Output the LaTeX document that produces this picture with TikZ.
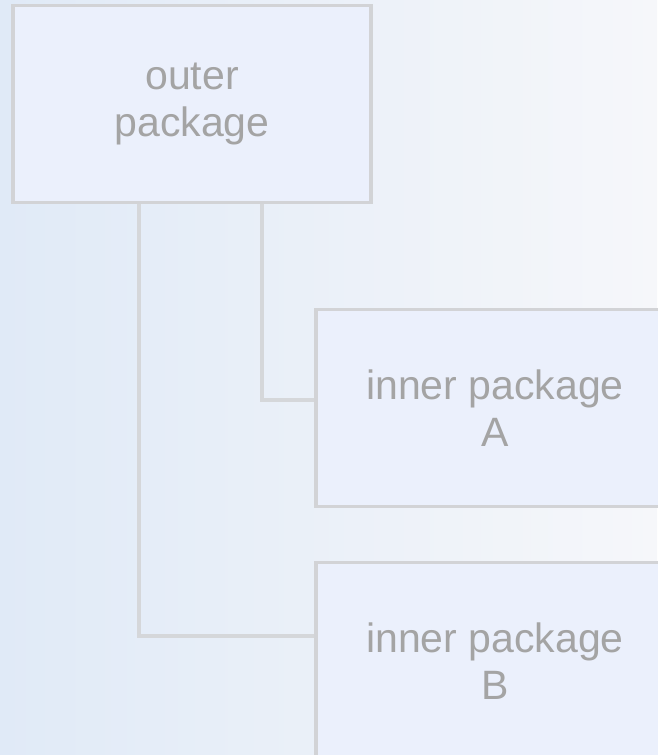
\documentclass[tikz,border=0pt]{standalone}
\usepackage{fontspec}
\setmainfont{Liberation Sans}
\usepackage{tikz}
\usetikzlibrary{positioning, calc}
\definecolor{bgA}{HTML}{E0EAF7}
\definecolor{bgB}{HTML}{F6F7FA}
\definecolor{boxA}{HTML}{EBF0FC}
\definecolor{edgeA}{HTML}{D2D3D6}
\definecolor{linkA}{HTML}{D5D7DA}
\definecolor{inkA}{HTML}{A4A4A4}

\begin{document}
\begin{tikzpicture}[
  x=1pt, y=-1pt,
  font=\fontsize{41}{47}\selectfont, text=inkA,
  pkg/.style ={draw=edgeA, line width=3.5pt, fill=boxA, align=center,
               minimum width=358pt, minimum height=197pt, inner sep=0pt},
  link/.style={draw=linkA, line width=4pt}
]
\useasboundingbox (0,0) rectangle (657,755);
\shade[shading angle=-60, left color=bgA, right color=bgB] (0,0) rectangle (657,755);

\node[pkg] (outer) at (192,104) {outer\\package};
\node[pkg] (inA)   at (495,408) {inner package\\A};
\node[pkg] (inB)   at (495,661) {inner package\\B};

% branches leave the outer box and turn right into each inner box
\draw[link] ([xshift=70pt]outer.south) |- ([yshift=8pt]inA.west);
\draw[link] ([xshift=-53pt]outer.south) |- ([yshift=25pt]inB.west);
\end{tikzpicture}
\end{document}
